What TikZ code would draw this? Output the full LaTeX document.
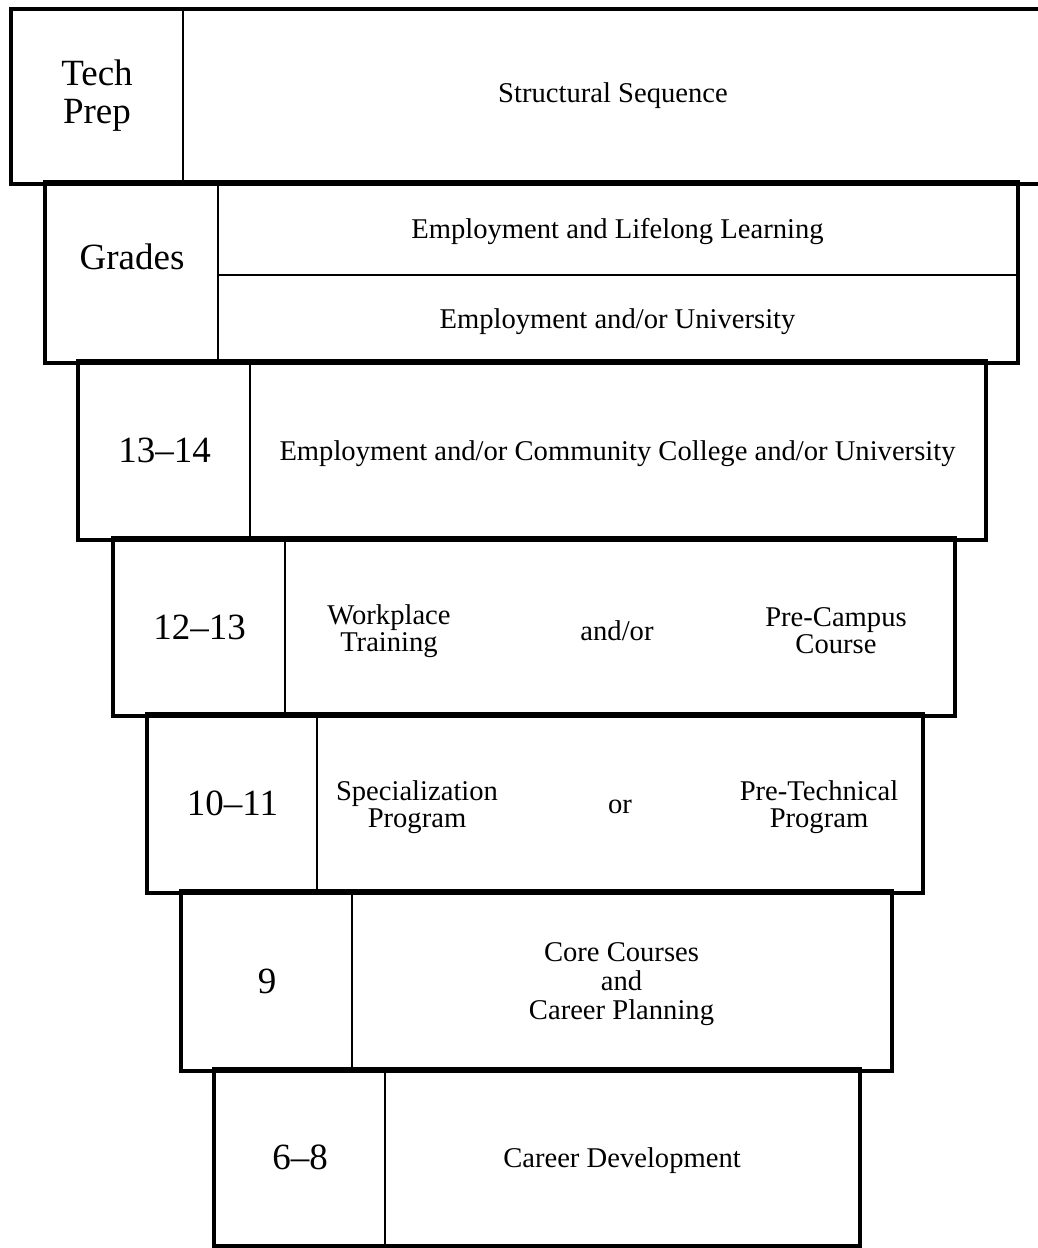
\documentclass[tikz,border=0pt]{standalone}
\usepackage{fontspec}
\setmainfont{Liberation Serif}
\usetikzlibrary{fit}

\tikzset{
  cell/.style={draw, line width=1pt, inner sep=0pt},
  frame/.style={draw, line width=2pt},
  big/.style={font=\fontsize{18.5}{19.5}\selectfont, align=center},
  small/.style={font=\fontsize{14.3}{13.5}\selectfont, align=center, yshift=-1.5pt},
}

\begin{document}
\begin{tikzpicture}[x=0.5pt, y=-0.5pt]
    \clip (0,0) rectangle (1038,1248);

    % row 1
    \node[cell, fit={(12,10) (183,183)}] (tech) {};
    \node[cell, fit={(183,10) (1045,183)}] (seq) {};
    \node[big] (techtext) at (97,96) {Tech\\[-0.5pt]Prep};
    \node[small] (seqtext) at (613,93) {Structural Sequence};

    % row 2
    \node[cell, fit={(46,183) (218,362)}] (grades) {};
    \node[cell, fit={(218,183) (1017,275)}] (life) {};
    \node[cell, fit={(218,275) (1017,362)}] (univ) {};
    \node[big] (gradestext) at (132,257) {Grades};
    \node[small] (lifetext) at (life) {Employment and Lifelong Learning};
    \node[small] (univtext) at (univ) {Employment and/or University};

    % row 3
    \node[cell, fit={(79,362) (250,539)}] (g13) {};
    \node[cell, fit={(250,362) (985,539)}] (cc) {};
    \node[big] (g13text) at (g13) {13--14};
    \node[small] (cctext) at (cc) {Employment and/or Community College and/or University};

    % row 4
    \node[cell, fit={(114,539) (285,715)}] (g12) {};
    \node[cell, fit={(285,539) (954,715)}] (c12) {};
    \node[big] (g12text) at (g12) {12--13};
    \node[small] (work) at (389,628) {Workplace\\Training};
    \node[small] (andor) at (617,628) {and/or};
    \node[small] (campus) at (836,628) {Pre-Campus\\Course};

    % row 5
    \node[cell, fit={(148,715) (317,892)}] (g10) {};
    \node[cell, fit={(317,715) (922,892)}] (c10) {};
    \node[big] (g10text) at (g10) {10--11};
    \node[small] (spec) at (417,804) {Specialization\\Program};
    \node[small] (or) at (620,804) {or};
    \node[small] (pretech) at (819,804) {Pre-Technical\\Program};

    % row 6
    \node[cell, fit={(182,892) (352,1070)}] (g9) {};
    \node[cell, fit={(352,892) (891,1070)}] (core) {};
    \node[big] (g9text) at (g9) {9};
    \node[small, font=\fontsize{14.3}{14.5}\selectfont] (coretext) at (core) {Core Courses\\and\\Career Planning};

    % row 7
    \node[cell, fit={(215,1070) (385,1245)}] (g6) {};
    \node[cell, fit={(385,1070) (859,1245)}] (dev) {};
    \node[big] (g6text) at (g6) {6--8};
    \node[small] (devtext) at (dev) {Career Development};

    % heavy outlines
    \draw[frame] (tech.north west) rectangle (seq.south east);
    \draw[frame] (grades.north west) rectangle (univ.south east);
    \draw[frame] (g13.north west) rectangle (cc.south east);
    \draw[frame] (g12.north west) rectangle (c12.south east);
    \draw[frame] (g10.north west) rectangle (c10.south east);
    \draw[frame] (g9.north west) rectangle (core.south east);
    \draw[frame] (g6.north west) rectangle (dev.south east);
\end{tikzpicture}
\end{document}
